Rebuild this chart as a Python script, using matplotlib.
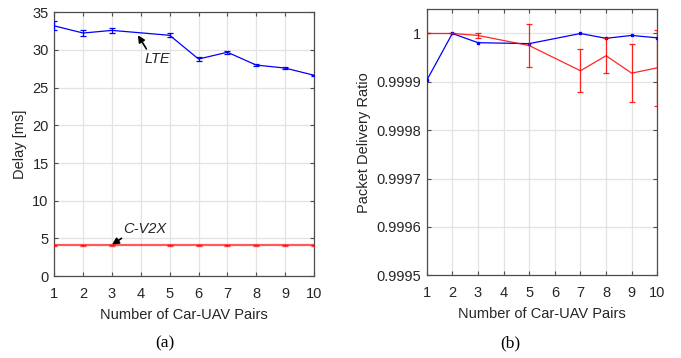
import matplotlib
matplotlib.use("Agg")
import matplotlib.pyplot as plt
import numpy as np

# ---- data ----
x_delay = [1, 2, 3, 5, 6, 7, 8, 9, 10]
lte_delay = [33.2, 32.25, 32.6, 31.95, 28.8, 29.7, 28.0, 27.6, 26.65]
lte_delay_err = [0.6, 0.37, 0.3, 0.25, 0.3, 0.18, 0.12, 0.1, 0.08]
cv2x_delay = [4.1, 4.1, 4.1, 4.1, 4.1, 4.1, 4.1, 4.1, 4.1]
cv2x_delay_err = [0.05, 0.05, 0.05, 0.05, 0.05, 0.05, 0.05, 0.05, 0.05]

x_pdr = [1, 2, 3, 5, 7, 8, 9, 10]
lte_pdr = [0.999903, 1.0, 0.999981, 0.999979, 1.0, 0.99999, 0.999996, 0.999991]
cv2x_pdr = [1.0, 1.0, 0.999996, 0.999975, 0.999923, 0.999954, 0.999918, 0.999929]
cv2x_pdr_err = [0.0, 0.0, 0.0000055, 0.000044, 0.000044, 0.000036, 0.00006, 0.000079]

xticks = list(range(1, 11))
delay_yticks = [0, 5, 10, 15, 20, 25, 30, 35]
pdr_yticks = [0.9995, 0.9996, 0.9997, 0.9998, 0.9999, 1.0]
pdr_yticklabels = ["0.9995", "0.9996", "0.9997", "0.9998", "0.9999", "1"]

plt.rcParams['font.family'] = ['Liberation Sans', 'DejaVu Sans']
TXT = '#262626'
AX = '#4d4d4d'

fig = plt.figure(figsize=(6.81, 3.58), dpi=100)
ax1 = fig.add_axes([0.0797, 0.229, 0.461 - 0.0797, 0.9656 - 0.229])
ax2 = fig.add_axes([0.6266, 0.231, 0.9652 - 0.6266, 0.974 - 0.231])

def style(ax):
    ax.grid(True, color='#e3e3e3', linewidth=0.9)
    ax.set_axisbelow(True)
    for s in ax.spines.values():
        s.set_color(AX)
        s.set_linewidth(0.9)
    ax.tick_params(direction='in', top=True, right=True, length=3, width=0.8,
                   colors=AX, labelcolor=TXT, labelsize=10.5, pad=4)
    ax.tick_params(axis='x', pad=8)
    ax.set_xlim(1, 10)
    ax.set_xticks(xticks)
    ax.set_xlabel('Number of Car-UAV Pairs', fontsize=10.5, color=TXT, labelpad=5)

# Left: delay
ax1.errorbar(x_delay, cv2x_delay, yerr=cv2x_delay_err, color='#ff0000', alpha=0.65,
             lw=1.6, capsize=2, elinewidth=1.6, zorder=3)
ax1.errorbar(x_delay, lte_delay, yerr=lte_delay_err, color='#0000ff', lw=0.9,
             capsize=2, elinewidth=0.9, capthick=0.9, zorder=3)
style(ax1)
ax1.set_ylim(0, 35)
ax1.set_yticks(delay_yticks)
ax1.set_ylabel('Delay [ms]', fontsize=10.5, color=TXT, labelpad=4)
ax1.annotate('LTE', xy=(3.9, 31.95), xytext=(4.12, 28.85), fontsize=10.5,
             style='italic', color=TXT, va='center', ha='left',
             arrowprops=dict(arrowstyle='-|>', color='black', lw=1.2,
                             mutation_scale=10, shrinkA=0, shrinkB=0,
                             relpos=(0.15, 1.0)))
ax1.annotate('C-V2X', xy=(3.0, 4.15), xytext=(3.4, 6.3), fontsize=10.5,
             style='italic', color=TXT, va='center', ha='left',
             arrowprops=dict(arrowstyle='-|>', color='black', lw=1.2,
                             mutation_scale=10, shrinkA=0, shrinkB=0,
                             relpos=(0.05, 0.0)))

# Right: PDR
ax2.plot(x_pdr, lte_pdr, color='#0000ff', lw=0.9, marker='s', ms=1.5, zorder=3)
ax2.errorbar(x_pdr, cv2x_pdr, yerr=cv2x_pdr_err, color='#ff0000', lw=0.9,
             capsize=2, elinewidth=0.9, capthick=0.9, alpha=0.85, zorder=3)
style(ax2)
ax2.set_ylim(0.9995, 1.00005)
ax2.set_yticks(pdr_yticks)
ax2.set_yticklabels(pdr_yticklabels)
ax2.set_ylabel('Packet Delivery Ratio', fontsize=10.5, color=TXT, labelpad=4)

fig.text(165 / 681, 1 - 343 / 358, '(a)', family=['Liberation Serif', 'DejaVu Serif'],
         fontsize=12.5, ha='center', va='center', color='black')
fig.text(510 / 681, 1 - 343 / 358, '(b)', family=['Liberation Serif', 'DejaVu Serif'],
         fontsize=12.5, ha='center', va='center', color='black')

fig.savefig('out.png', dpi=100)
